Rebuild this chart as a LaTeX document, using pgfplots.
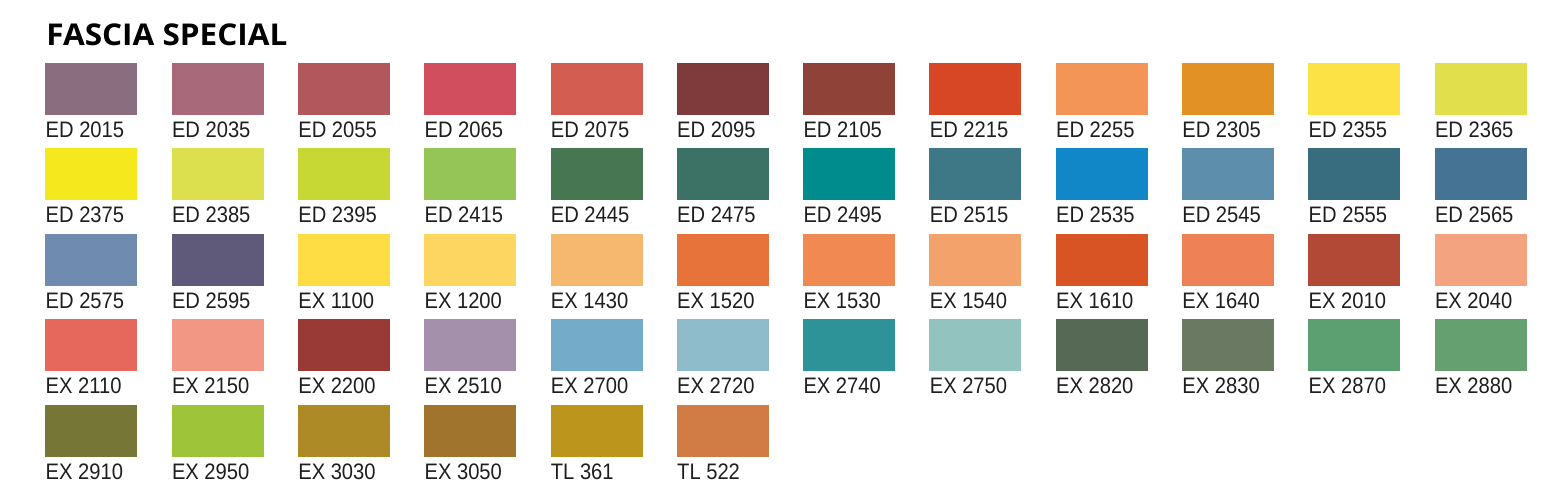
\documentclass[border=0pt]{standalone}
\usepackage{fontspec}
\setmainfont{Liberation Sans}[FakeStretch=0.9]
\newfontfamily\titlefont{Open Sans}[FakeStretch=1.05]
\usepackage{pgfplots}
\usepackage{pgfplotstable}
\pgfplotsset{compat=1.18}

\definecolor{labelcol}{HTML}{1E1E1E}

% one swatch = 92 x 52 px (1 px = 0.5 pt), filled with the colour of its row
\pgfdeclareplotmark{swatch}{%
  \pgfmathtruncatemacro\swr{\swR}%
  \pgfmathtruncatemacro\swg{\swG}%
  \pgfmathtruncatemacro\swb{\swB}%
  \edef\tmp{\noexpand\definecolor{mc}{RGB}{\swr,\swg,\swb}}\tmp
  \pgfsetfillcolor{mc}%
  \pgfpathrectangle{\pgfpoint{-23pt}{-13pt}}{\pgfpoint{46pt}{26pt}}%
  \pgfusepathqfill}

\begin{document}
% column, row, name, colour (RGB 0-255)
\pgfplotstableread[col sep=comma]{
c,r,name,R,G,B
0,0,ED 2015,138,110,128
1,0,ED 2035,168,106,122
2,0,ED 2055,178,87,91
3,0,ED 2065,208,78,94
4,0,ED 2075,212,93,82
5,0,ED 2095,127,59,60
6,0,ED 2105,142,66,56
7,0,ED 2215,216,71,37
8,0,ED 2255,243,149,87
9,0,ED 2305,226,145,37
10,0,ED 2355,253,226,70
11,0,ED 2365,225,224,76
0,1,ED 2375,245,232,28
1,1,ED 2385,220,224,78
2,1,ED 2395,199,215,51
3,1,ED 2415,149,196,87
4,1,ED 2445,70,118,82
5,1,ED 2475,60,114,101
6,1,ED 2495,0,140,140
7,1,ED 2515,62,120,135
8,1,ED 2535,18,135,200
9,1,ED 2545,93,142,172
10,1,ED 2555,56,108,127
11,1,ED 2565,68,115,148
0,2,ED 2575,111,140,176
1,2,ED 2595,95,90,122
2,2,EX 1100,253,220,68
3,2,EX 1200,253,214,98
4,2,EX 1430,246,183,110
5,2,EX 1520,231,115,58
6,2,EX 1530,241,138,82
7,2,EX 1540,244,162,108
8,2,EX 1610,217,84,37
9,2,EX 1640,238,130,86
10,2,EX 2010,178,73,55
11,2,EX 2040,243,163,128
0,3,EX 2110,230,104,92
1,3,EX 2150,242,151,132
2,3,EX 2200,153,58,55
3,3,EX 2510,165,144,171
4,3,EX 2700,116,171,200
5,3,EX 2720,143,188,203
6,3,EX 2740,46,147,153
7,3,EX 2750,147,195,190
8,3,EX 2820,86,105,85
9,3,EX 2830,106,122,98
10,3,EX 2870,92,159,112
11,3,EX 2880,100,160,112
0,4,EX 2910,118,118,54
1,4,EX 2950,158,197,58
2,4,EX 3030,173,138,37
3,4,EX 3050,160,116,44
4,4,TL 361,188,149,29
5,4,TL 522,210,124,69
}\swatches

\begin{tikzpicture}
\begin{axis}[
  width=774pt, height=244.5pt, scale only axis,
  xmin=-0.7229, xmax=11.5337,
  ymin=-1.0422, ymax=4.6838, y dir=reverse,
  axis line style={draw=none}, ticks=none,
  clip=false,
]
\addplot[
  only marks, mark=swatch, scatter,
  point meta=explicit symbolic,
  visualization depends on={\thisrow{R}\as\swR},
  visualization depends on={\thisrow{G}\as\swG},
  visualization depends on={\thisrow{B}\as\swB},
  scatter/@pre marker code/.code={\pgfscope},
  scatter/@post marker code/.code={\endpgfscope},
  nodes near coords={\pgfplotspointmeta},
  nodes near coords style={anchor=base west, inner sep=0pt,
    xshift=-23pt, yshift=-24.2pt, text=labelcol,
    font=\fontsize{11.2}{13}\selectfont},
] table[x=c, y=r, meta=name] {\swatches};

\node[anchor=base west, inner sep=0pt,
  font=\fontsize{15}{17}\selectfont\titlefont\bfseries]
  at (axis cs:-0.3587,-0.5152) {FASCIA SPECIAL};
\end{axis}
\end{tikzpicture}
\end{document}
